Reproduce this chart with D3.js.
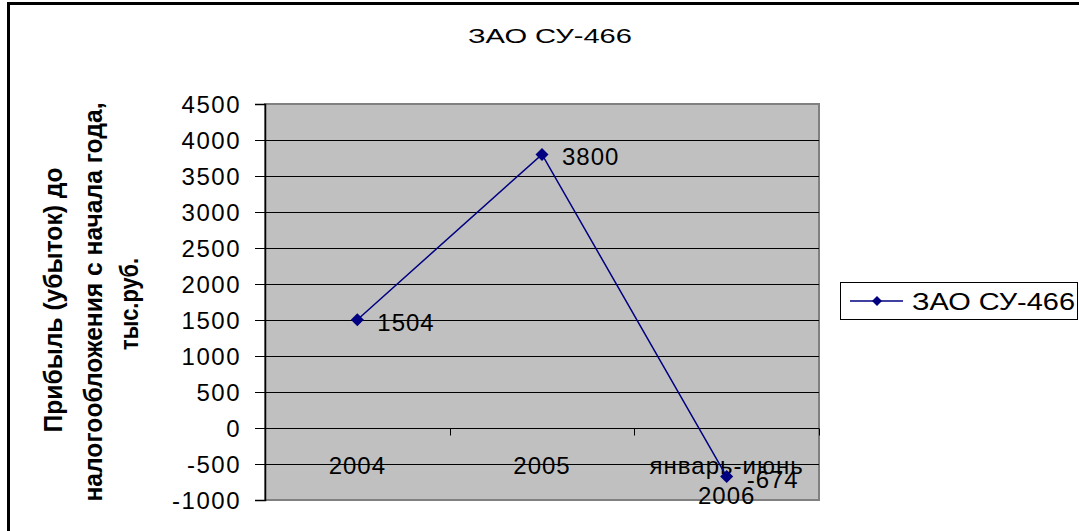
<!DOCTYPE html>
<html>
<head>
<meta charset="utf-8">
<script src="https://cdn.jsdelivr.net/npm/d3@7"></script>
<style>
  body { margin: 0; background: #fff; }
  text { font-family: "Liberation Sans", Arial, sans-serif; }
</style>
</head>
<body>
<div id="chart"></div>
<script>
// data
var categories = ["2004", "2005", "январь-июнь 2006"];
var categoryLines = [["2004"], ["2005"], ["январь-июнь", "2006"]];
var values = [1504, 3800, -674];
var yTicks = [-1000, -500, 0, 500, 1000, 1500, 2000, 2500, 3000, 3500, 4000, 4500];
var seriesName = "ЗАО СУ-466";
var chartTitle = "ЗАО СУ-466";
var yTitleLines = ["Прибыль (убыток) до", "налогообложения с начала года,", "тыс.руб."];

var W = 1079, H = 531;
var plot = { left: 265, top: 104, right: 819, bottom: 500 };

var svg = d3.select("#chart").append("svg")
  .attr("width", W)
  .attr("height", H);

// outer frame
svg.append("rect")
  .attr("x", 8.5).attr("y", 3.5)
  .attr("width", W + 10).attr("height", H + 10)
  .attr("fill", "none").attr("stroke", "#000").attr("stroke-width", 3);

var x = d3.scaleBand()
  .domain(categories)
  .range([plot.left, plot.right]);

var y = d3.scaleLinear()
  .domain([-1000, 4500])
  .range([plot.bottom, plot.top]);

// plot background
svg.append("rect")
  .attr("x", plot.left).attr("y", plot.top)
  .attr("width", plot.right - plot.left).attr("height", plot.bottom - plot.top)
  .attr("fill", "#c0c0c0")
  .attr("stroke", "#808080").attr("stroke-width", 2);

// gridlines
svg.append("g")
  .selectAll("line")
  .data(yTicks.filter(function(d) { return d != 4500 && d != -1000; }))
  .enter()
  .append("line")
  .attr("x1", plot.left).attr("x2", plot.right)
  .attr("y1", function(d) { return Math.round(y(d)) + 0.5; })
  .attr("y2", function(d) { return Math.round(y(d)) + 0.5; })
  .attr("stroke", "#000");

// y axis
var yAxis = svg.append("g")
  .attr("transform", "translate(" + plot.left + ",0)")
  .call(d3.axisLeft(y).tickValues(yTicks).tickSize(10).tickPadding(14)
    .tickFormat(function(d) { return String(d); }));
yAxis.select(".domain").attr("stroke", "#000").attr("stroke-width", 1.5);
yAxis.selectAll("text")
  .style("font-size", "24px")
  .style("letter-spacing", "1.5px")
  .attr("dy", "0.36em")
  .attr("fill", "#000");

// x axis at zero
var x0 = Math.round(y(0)) + 0.5;
svg.append("line")
  .attr("x1", plot.left).attr("x2", plot.right)
  .attr("y1", x0).attr("y2", x0)
  .attr("stroke", "#000");
var bounds = categories.map(function(c) { return x(c); }).concat([plot.right]);
svg.append("g")
  .selectAll("line")
  .data(bounds)
  .enter()
  .append("line")
  .attr("x1", function(d) { return Math.round(d) + 0.5; })
  .attr("x2", function(d) { return Math.round(d) + 0.5; })
  .attr("y1", x0).attr("y2", x0 + 7)
  .attr("stroke", "#000");

// category labels
var catLabels = svg.append("g")
  .selectAll("text")
  .data(categories)
  .enter()
  .append("text")
  .attr("text-anchor", "middle")
  .attr("x", function(d) { return x(d) + x.bandwidth() / 2; })
  .attr("y", 474)
  .style("font-size", "24px")
  .style("letter-spacing", "1px")
  .attr("fill", "#000");
catLabels.each(function(d, i) {
  var t = d3.select(this);
  categoryLines[i].forEach(function(line, j) {
    t.append("tspan")
      .attr("x", x(d) + x.bandwidth() / 2)
      .attr("dy", j == 0 ? 0 : 30)
      .text(line);
  });
});

// line
var line = d3.line()
  .x(function(d, i) { return x(categories[i]) + x.bandwidth() / 2; })
  .y(function(d) { return y(d); });

svg.append("path")
  .datum(values)
  .attr("d", line)
  .attr("fill", "none")
  .attr("stroke", "#000080")
  .attr("stroke-width", 1.5);

var diamond = d3.symbol().type(d3.symbolSquare).size(85);

svg.append("g")
  .selectAll("path")
  .data(values)
  .enter()
  .append("path")
  .attr("d", diamond)
  .attr("transform", function(d, i) {
    return "translate(" + (x(categories[i]) + x.bandwidth() / 2) + "," + y(d) + ") rotate(45)";
  })
  .attr("fill", "#000080");

// value labels
svg.append("g")
  .selectAll("text")
  .data(values)
  .enter()
  .append("text")
  .attr("x", function(d, i) { return x(categories[i]) + x.bandwidth() / 2 + 20; })
  .attr("y", function(d) { return y(d) + 11; })
  .style("font-size", "24px")
  .style("letter-spacing", "1px")
  .attr("fill", "#000")
  .text(function(d) { return d; });

// title
svg.append("text")
  .attr("x", 468).attr("y", 43)
  .attr("textLength", 164)
  .attr("lengthAdjust", "spacingAndGlyphs")
  .style("font-size", "21px")
  .text(chartTitle);

// y axis title (three rotated lines)
var yTitleX = [62, 102, 138];
var yTitleLen = [265, 399, 92];
var yTitleY = [300, 302, 304];
yTitleLines.forEach(function(l, i) {
  svg.append("text")
    .attr("transform", "translate(" + yTitleX[i] + "," + (yTitleY[i] + yTitleLen[i] / 2) + ") rotate(-90)")
    .attr("x", 0).attr("y", 0)
    .attr("textLength", yTitleLen[i])
    .attr("lengthAdjust", "spacingAndGlyphs")
    .style("font-size", "26px")
    .style("font-weight", "bold")
    .text(l);
});

// legend
var legend = svg.append("g");
legend.append("rect")
  .attr("x", 840.5).attr("y", 282.5)
  .attr("width", 237).attr("height", 37)
  .attr("fill", "#fff").attr("stroke", "#000");
legend.append("line")
  .attr("x1", 850).attr("x2", 903)
  .attr("y1", 301).attr("y2", 301)
  .attr("stroke", "#000080").attr("stroke-width", 1.5);
legend.append("path")
  .attr("d", d3.symbol().type(d3.symbolSquare).size(50))
  .attr("transform", "translate(877,301) rotate(45)")
  .attr("fill", "#000080");
legend.append("text")
  .attr("x", 912).attr("y", 310)
  .attr("textLength", 163)
  .attr("lengthAdjust", "spacingAndGlyphs")
  .style("font-size", "24px")
  .text(seriesName);
</script>
</body>
</html>
